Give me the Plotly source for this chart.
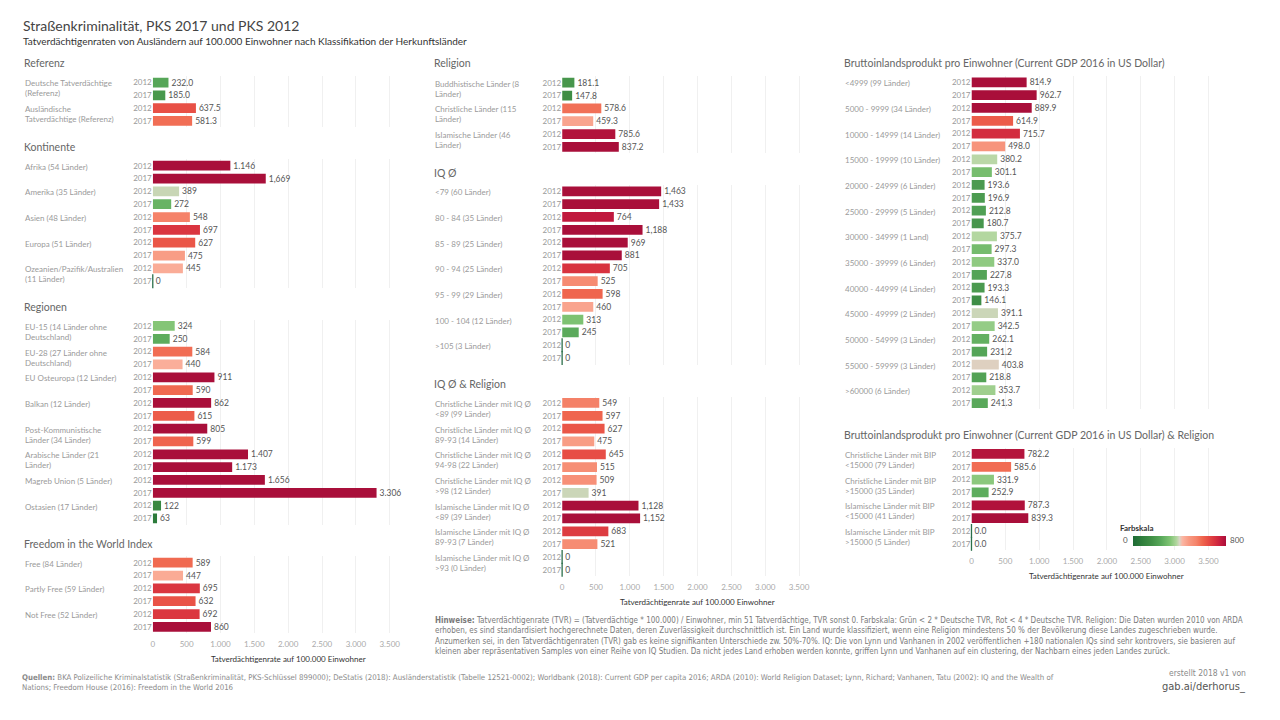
import plotly.graph_objects as go

# The page body has an 8px margin, so the figure is laid out in page pixels minus OFF.
OFF = 8
FW, FH = 1264, 704
FONT = "Lato, 'Open Sans', sans-serif"
NARROW = "'Liberation Sans Narrow', 'DejaVu Sans Condensed', sans-serif"
YEARS = ["2012", "2017"]

# ---------------- data ----------------
ref_cats = ["Deutsche Tatverdächtige\n(Referenz)", "Ausländische\nTatverdächtige (Referenz)"]
ref_2012 = [232.0, 637.5]
ref_2017 = [185.0, 581.3]

kont_cats = ["Afrika (54 Länder)", "Amerika (35 Länder)", "Asien (48 Länder)",
             "Europa (51 Länder)", "Ozeanien/Pazifik/Australien\n(11 Länder)"]
kont_2012 = [1146, 389, 548, 627, 445]
kont_2017 = [1669, 272, 697, 475, 0]

reg_cats = ["EU-15 (14 Länder ohne\nDeutschland)", "EU-28 (27 Länder ohne\nDeutschland)",
            "EU Osteuropa (12 Länder)", "Balkan (12 Länder)",
            "Post-Kommunistische\nLänder (34 Länder)", "Arabische Länder (21\nLänder)",
            "Magreb Union (5 Länder)", "Ostasien (17 Länder)"]
reg_2012 = [324, 584, 911, 862, 805, 1407, 1656, 122]
reg_2017 = [250, 440, 590, 615, 599, 1173, 3306, 63]

free_cats = ["Free (84 Länder)", "Partly Free (59 Länder)", "Not Free (52 Länder)"]
free_2012 = [589, 695, 692]
free_2017 = [447, 632, 860]

rel_cats = ["Buddhistische Länder (8\nLänder)", "Christliche Länder (115\nLänder)",
            "Islamische Länder (46\nLänder)"]
rel_2012 = [181.1, 578.6, 785.6]
rel_2017 = [147.8, 459.3, 837.2]

iq_cats = ["<79 (60 Länder)", "80 - 84 (35 Länder)", "85 - 89 (25 Länder)",
           "90 - 94 (25 Länder)", "95 - 99 (29 Länder)", "100 - 104 (12 Länder)",
           ">105 (3 Länder)"]
iq_2012 = [1463, 764, 969, 705, 598, 313, 0]
iq_2017 = [1433, 1188, 881, 525, 460, 245, 0]

iqrel_cats = ["Christliche Länder mit IQ Ø\n<89 (99 Länder)", "Christliche Länder mit IQ Ø\n89-93 (14 Länder)",
              "Christliche Länder mit IQ Ø\n94-98 (22 Länder)", "Christliche Länder mit IQ Ø\n>98 (12 Länder)",
              "Islamische Länder mit IQ Ø\n<89 (39 Länder)", "Islamische Länder mit IQ Ø\n89-93 (7 Länder)",
              "Islamische Länder mit IQ Ø\n>93 (0 Länder)"]
iqrel_2012 = [549, 627, 645, 509, 1128, 683, 0]
iqrel_2017 = [597, 475, 515, 391, 1152, 521, 0]

gdp_cats = ["<4999 (99 Länder)", "5000 - 9999 (34 Länder)", "10000 - 14999 (14 Länder)",
            "15000 - 19999 (10 Länder)", "20000 - 24999 (6 Länder)", "25000 - 29999 (5 Länder)",
            "30000 - 34999 (1 Land)", "35000 - 39999 (6 Länder)", "40000 - 44999 (4 Länder)",
            "45000 - 49999 (2 Länder)", "50000 - 54999 (3 Länder)", "55000 - 59999 (3 Länder)",
            ">60000 (6 Länder)"]
gdp_2012 = [814.9, 889.9, 715.7, 380.2, 193.6, 212.8, 375.7, 337.0, 193.3, 391.1, 262.1, 403.8, 353.7]
gdp_2017 = [962.7, 614.9, 498.0, 301.1, 196.9, 180.7, 297.3, 227.8, 146.1, 342.5, 231.2, 218.8, 241.3]

gdprel_cats = ["Christliche Länder mit BIP\n<15000 (79 Länder)", "Christliche Länder mit BIP\n>15000 (35 Länder)",
               "Islamische Länder mit BIP\n<15000 (41 Länder)", "Islamische Länder mit BIP\n>15000 (5 Länder)"]
gdprel_2012 = [782.2, 331.9, 787.3, 0.0]
gdprel_2017 = [585.6, 252.9, 839.3, 0.0]

x_ticks = [0, 500, 1000, 1500, 2000, 2500, 3000, 3500]
x_ticktext = [f"{v:,}".replace(",", ".") for v in x_ticks]

# ---------------- styling / layout specs ----------------
COLORSCALE = [
    [0.00, "#1f6b36"], [0.10, "#2f7f3c"], [0.20, "#419047"], [0.30, "#58a85a"],
    [0.40, "#80c474"], [0.47, "#b3d7a0"], [0.50, "#d9d5c6"], [0.53, "#fbb6a3"],
    [0.60, "#f89a82"], [0.68, "#f5846b"], [0.74, "#f0684f"], [0.80, "#e84f45"],
    [0.88, "#d8323f"], [0.95, "#c21a3e"], [1.00, "#a90f3a"],
]
P = 12.83          # row pitch in px
XSPAN = 271.2      # px for range 0..4000
COLS = {"L": (151, 21), "M": (561, 432), "R": (971, 842)}  # bar origin, label x (page px)


def px(x):
    return (x - OFF) / FW


def py(y):
    return 1 - (y - OFF) / FH


# (title, cats, v2012, v2017, decimals, sep2012, sep2017, column, first row center px, title y px, ticks)
sections = [
    ("Referenz", ref_cats, ref_2012, ref_2017, 1, ".", ".", "L", 82.5, 63, False),
    ("Kontinente", kont_cats, kont_2012, kont_2017, 0, ".", ",", "L", 165.7, 147, False),
    ("Regionen", reg_cats, reg_2012, reg_2017, 0, ".", ".", "L", 326, 307, False),
    ("Freedom in the World Index", free_cats, free_2012, free_2017, 0, ".", ".", "L", 562.7, 544, True),
    ("Religion", rel_cats, rel_2012, rel_2017, 1, ",", ",", "M", 82.7, 63, False),
    ("IQ Ø", iq_cats, iq_2012, iq_2017, 0, ",", ",", "M", 191.3, 172.5, False),
    ("IQ Ø & Religion", iqrel_cats, iqrel_2012, iqrel_2017, 0, ",", ",", "M", 403, 384, True),
    ("Bruttoinlandsprodukt pro Einwohner (Current GDP 2016 in US Dollar)", gdp_cats, gdp_2012, gdp_2017,
     1, ",", ",", "R", 82.3, 63, False),
    ("Bruttoinlandsprodukt pro Einwohner (Current GDP 2016 in US Dollar) & Religion", gdprel_cats,
     gdprel_2012, gdprel_2017, 1, ",", ",", "R", 454, 435, True),
]


def fmt(v, dec, sep):
    return f"{v:,.{dec}f}".replace(",", sep)


def esc(s):
    return s.replace("<", "&lt;").replace(">", "&gt;").replace("\n", "<br>")


def note(text, x, y, xanchor="left", yanchor="middle", size=8, color="#555", family=FONT, align="left"):
    return dict(text=text, x=px(x), y=py(y), xref="paper", yref="paper", xanchor=xanchor,
                yanchor=yanchor, align=align, showarrow=False,
                font=dict(family=family, size=size, color=color))


fig = go.Figure()
annotations = []
layout_axes = {}

for k, (title, cats, v12, v17, dec, s12, s17, col, y1, ty, ticks) in enumerate(sections):
    n = 2 * len(cats)
    sfx = "" if k == 0 else str(k + 1)
    xname, yname = "x" + sfx, "y" + sfx
    x0, lx = COLS[col]
    vals, labels = [], []
    for a, b in zip(v12, v17):
        vals += [a, b]
        labels += [fmt(a, dec, s12), fmt(b, dec, s17)]
    idx = list(range(n))
    last = k == len(sections) - 1
    marker = dict(color=vals, colorscale=COLORSCALE, cmin=0, cmax=800, line=dict(width=0))
    if last:
        marker.update(showscale=True, colorbar=dict(
            orientation="h", x=px(1133 + 46.5), xanchor="center", y=py(541), yanchor="middle",
            len=93, lenmode="pixels", thickness=10, thicknessmode="pixels",
            showticklabels=False, ticks="", outlinewidth=0, xpad=0, ypad=0))
    fig.add_trace(go.Bar(x=vals, y=idx, orientation="h", xaxis=xname, yaxis=yname,
                         marker=marker, width=0.76, text=labels, textposition="outside",
                         cliponaxis=False, constraintext="none",
                         textfont=dict(family=FONT, size=8.5, color="#555"),
                         hoverinfo="x"))
    zx = [v for v in vals if v == 0]
    zy = [i for i, v in zip(idx, vals) if v == 0]
    if zx:
        fig.add_trace(go.Scatter(x=zx, y=zy, mode="markers", xaxis=xname, yaxis=yname,
                                 cliponaxis=False, hoverinfo="skip",
                                 marker=dict(symbol="line-ns", size=10,
                                             line=dict(width=1.3, color="#2b6f4a"))))
    top = y1 - P / 2
    bottom = y1 + (n - 1) * P + P / 2
    layout_axes["xaxis" + sfx] = dict(
        domain=[px(x0), px(x0 + XSPAN)], range=[0, 4000], anchor=yname,
        tickvals=x_ticks, ticktext=x_ticktext, showticklabels=ticks, ticks="",
        ticklabelstandoff=5,
        showgrid=True, gridcolor="#f0f0f0", gridwidth=1, zeroline=False, showline=False,
        tickfont=dict(family=FONT, size=8, color="#aaa"), fixedrange=True)
    layout_axes["yaxis" + sfx] = dict(
        domain=[py(bottom), py(top)], range=[n - 0.5, -0.5], anchor=xname,
        tickvals=idx, ticktext=YEARS * len(cats), ticks="", showgrid=False, zeroline=False,
        showline=False, tickfont=dict(family=FONT, size=8, color="#999"), fixedrange=True)
    annotations.append(note(esc(title), lx - 1, ty, size=10.5, color="#666"))
    for i, c in enumerate(cats):
        annotations.append(dict(text=esc(c), x=px(lx), y=2 * i - 0.47, xref="paper", yref=yname,
                                xanchor="left", yanchor="top", align="left", showarrow=False,
                                font=dict(family=FONT, size=8, color="#9a9a9a")))
    if ticks:
        annotations.append(note("Tatverdächtigenrate auf 100.000 Einwohner", x0 + XSPAN / 2,
                                bottom + 25.5, xanchor="center", size=8, color="#333"))

annotations.append(note("Straßenkriminalität, PKS 2017 und PKS 2012", 19, 25, size=14, color="#444"))
annotations.append(note("Tatverdächtigenraten von Ausländern auf 100.000 Einwohner nach Klassifikation der Herkunftsländer",
                        19, 41, size=10, color="#333"))

annotations.append(note("<b>Farbskala</b>", 1118, 528, size=8, color="#333"))
annotations.append(note("0", 1130, 540, xanchor="right", size=8, color="#555"))
annotations.append(note("800", 1228, 540, size=8, color="#555"))

notes = ("<b>Hinweise:</b> Tatverdächtigenrate (TVR) = (Tatverdächtige * 100.000) / Einwohner, min 51 Tatverdächtige, TVR sonst 0. "
         "Farbskala: Grün &lt; 2 * Deutsche TVR, Rot &lt; 4 * Deutsche TVR. Religion: Die Daten wurden 2010 von ARDA<br>"
         "erhoben, es sind standardisiert hochgerechnete Daten, deren Zuverlässigkeit durchschnittlich ist. Ein Land wurde klassifiziert, "
         "wenn eine Religion mindestens 50 % der Bevölkerung diese Landes zugeschrieben wurde.<br>"
         "Anzumerken sei, in den Tatverdächtigenraten (TVR) gab es keine signifikanten Unterschiede zw. 50%-70%. IQ: Die von Lynn und "
         "Vanhanen in 2002 veröffentlichen +180 nationalen IQs sind sehr kontrovers, sie basieren auf<br>"
         "kleinen aber repräsentativen Samples von einer Reihe von IQ Studien. Da nicht jedes Land erhoben werden konnte, griffen Lynn "
         "und Vanhanen auf ein clustering, der Nachbarn eines jeden Landes zurück.")
annotations.append(note(notes, 432, 614, yanchor="top", size=8, color="#7a7a7a", family=NARROW))

sources = ("<b>Quellen:</b> BKA Polizeiliche Kriminalstatistik (Straßenkriminalität, PKS-Schlüssel 899000); DeStatis (2018): "
           "Ausländerstatistik (Tabelle 12521-0002); Worldbank (2018): Current GDP per capita 2016; ARDA (2010): World Religion "
           "Dataset; Lynn, Richard; Vanhanen, Tatu (2002): IQ and the Wealth of<br>Nations; Freedom House (2016): Freedom in the World 2016")
annotations.append(note(sources, 18, 671, yanchor="top", size=7.8, color="#8a8a8a", family=NARROW))
annotations.append(note("erstellt 2018 v1 von", 1248, 673, xanchor="right", size=8.5, color="#8a8a8a", family=NARROW))
annotations.append(note("gab.ai/derhorus_", 1248, 686, xanchor="right", size=11, color="#555", family=NARROW))

fig.update_layout(
    width=FW, height=FH, autosize=False, margin=dict(l=0, r=0, t=0, b=0),
    paper_bgcolor="white", plot_bgcolor="white", showlegend=False, bargap=0.2,
    font=dict(family=FONT), annotations=annotations, **layout_axes)

fig.write_html("out.html")
